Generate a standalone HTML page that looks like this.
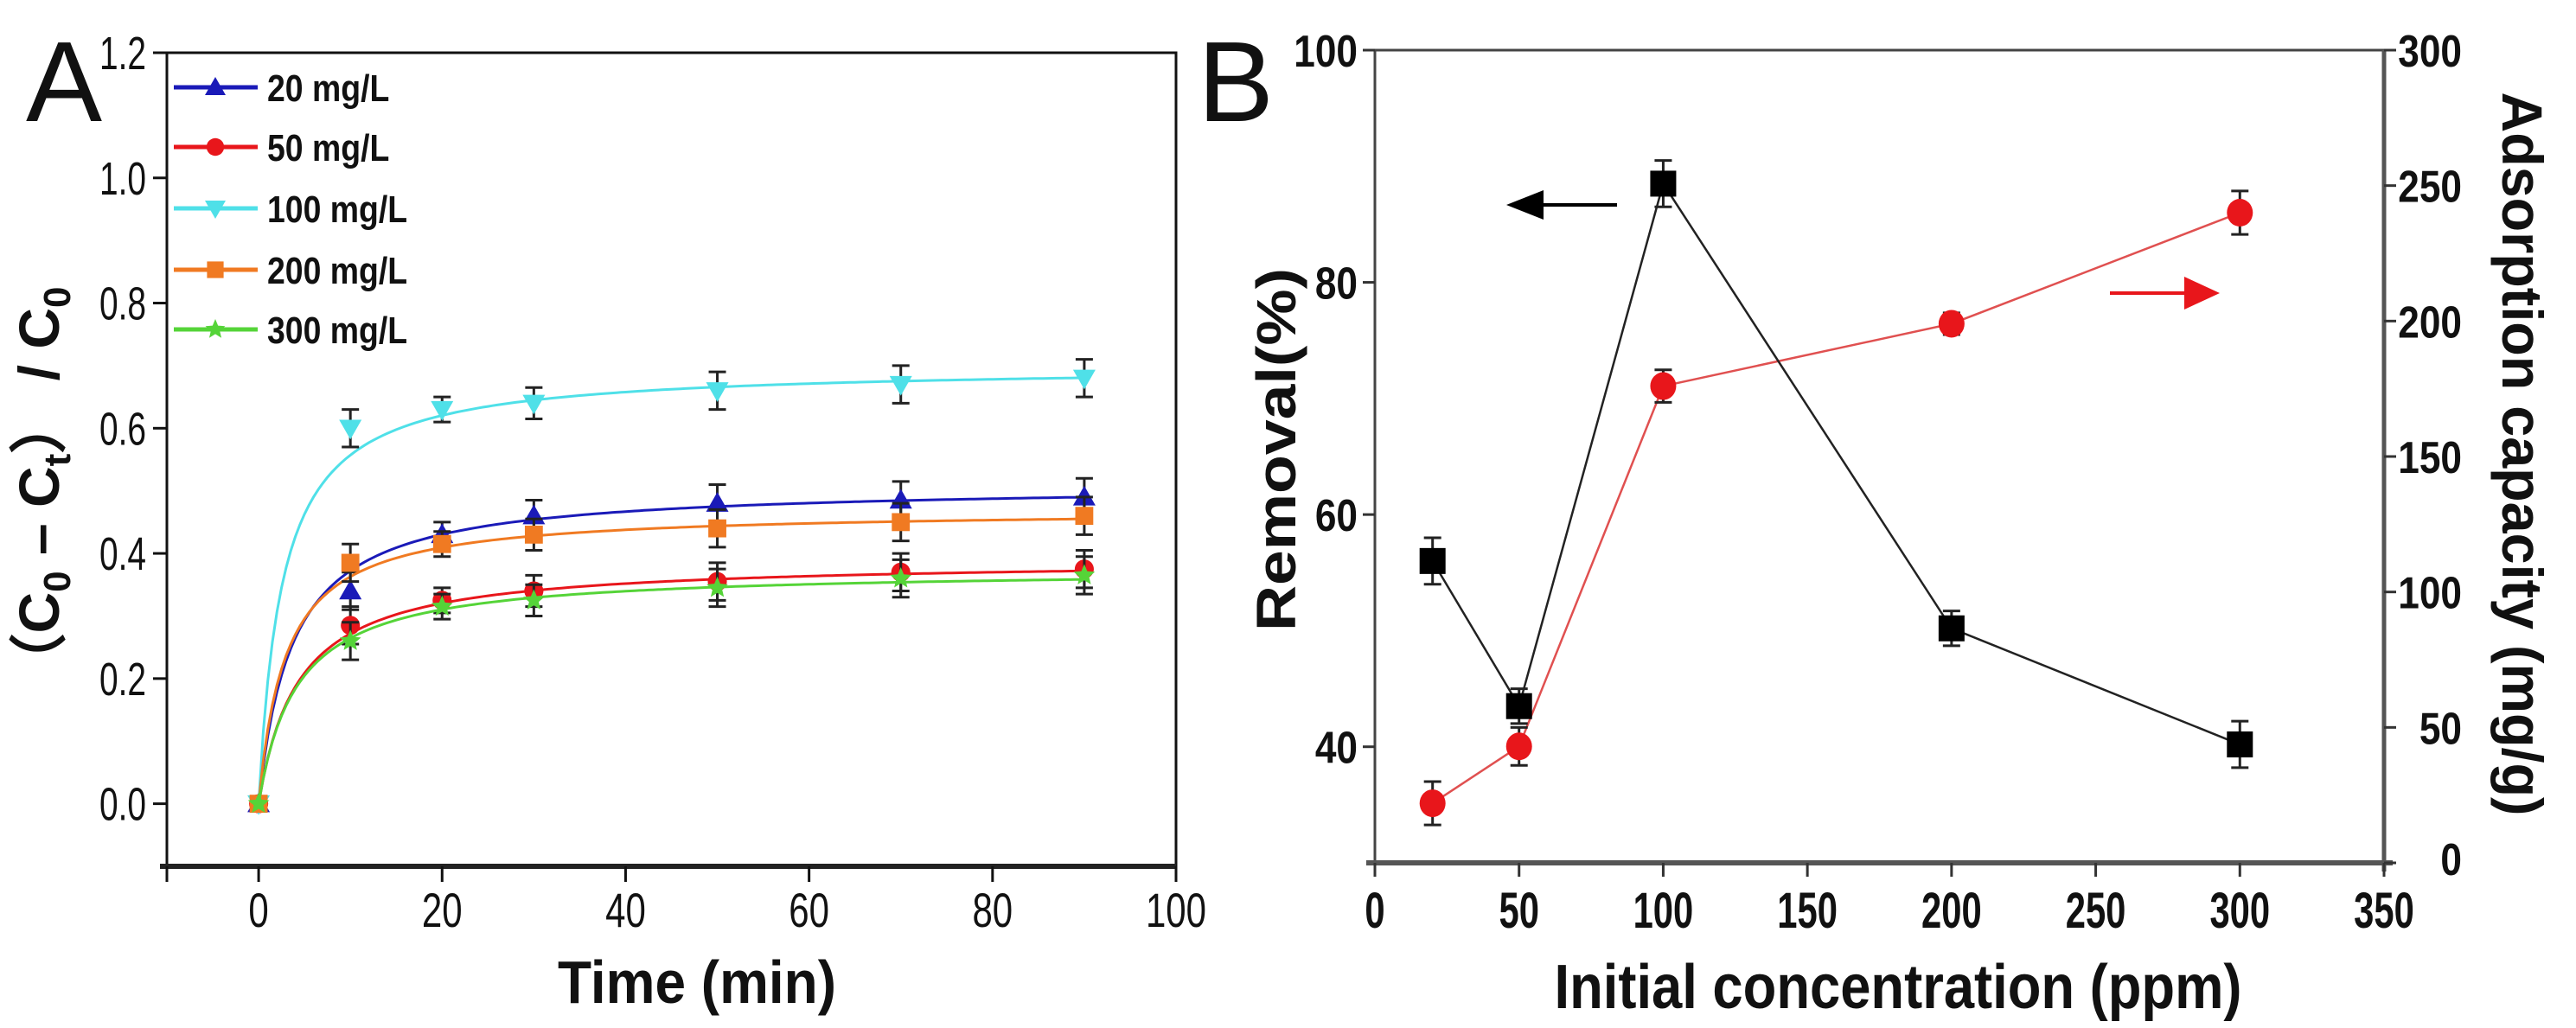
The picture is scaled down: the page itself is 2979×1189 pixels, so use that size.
<!DOCTYPE html>
<html><head><meta charset="utf-8"><style>
html,body{margin:0;padding:0;background:#fff;}
svg{display:block;}
text{font-family:"Liberation Sans",sans-serif;}
</style></head><body>
<svg id="fig" width="2979" height="1189" viewBox="0 0 2979 1189" xmlns="http://www.w3.org/2000/svg">
<g id="pa"></g>
<g id="pb"></g>
</svg>
<script>
// ---------- Panel A data ----------
const timesA = [0, 10, 20, 30, 50, 70, 90];
const seriesNames = ["20 mg/L", "50 mg/L", "100 mg/L", "200 mg/L", "300 mg/L"];
const s20 = [0, 0.34, 0.43, 0.46, 0.48, 0.485, 0.49];
const s50 = [0, 0.285, 0.325, 0.34, 0.355, 0.37, 0.375];
const s100 = [0, 0.60, 0.63, 0.64, 0.66, 0.67, 0.68];
const s200 = [0, 0.385, 0.415, 0.43, 0.44, 0.45, 0.46];
const s300 = [0, 0.26, 0.315, 0.325, 0.345, 0.36, 0.365];
const errA = [0.01, 0.03, 0.02, 0.025, 0.03, 0.03, 0.03];
const fitQe = [0.51, 0.39, 0.70, 0.47, 0.375];
const fitK = [0.53, 0.59, 0.557, 0.72, 0.64];
const xTicksA = [0, 20, 40, 60, 80, 100];
const yTicksA = [0.0, 0.2, 0.4, 0.6, 0.8, 1.0, 1.2];
// ---------- Panel B data ----------
const concB = [20, 50, 100, 200, 300];
const removal = [56, 43.5, 88.5, 50.2, 40.2];
const removalErr = [2, 1.5, 2, 1.5, 2];
const capacity = [22, 43, 176, 199, 240];
const capacityErr = [8, 7, 6, 4, 8];
const xTicksB = [0, 50, 100, 150, 200, 250, 300, 350];
const yTicksBL = [40, 60, 80, 100];
const yTicksBR = [0, 50, 100, 150, 200, 250, 300];

const NS = "http://www.w3.org/2000/svg";
function mk(parent, tag, attrs, txt){
  const e = document.createElementNS(NS, tag);
  for (const k in attrs) e.setAttribute(k, attrs[k]);
  if (txt !== undefined) e.textContent = txt;
  parent.appendChild(e); return e;
}
function sx(x, s){ return `translate(${x},0) scale(${s},1) translate(${-x},0)`; }
const pa = document.getElementById('pa');
const pb = document.getElementById('pb');

// Panel A axes
const AL=193, AR=1360, AT=61, AB=1002;
const xA = v => AL + (v + 10) / 110 * (AR - AL);
const yA = v => AB - (v + 0.1) / 1.3 * (AB - AT);

let e;
e = mk(pa,'rect',{x:AL,y:AT,width:AR-AL,height:AB-AT,fill:'none',stroke:'#111','stroke-width':3});


mk(pa,'line',{x1:AL-8,x2:AR,y1:AB,y2:AB,stroke:'#222','stroke-width':6});
xTicksA.forEach(t=>{
  e = mk(pa,'line',{x1:xA(t),x2:xA(t),y1:AB,y2:AB+18,stroke:'#111','stroke-width':3});
  
  
  e = mk(pa,'text',{x:xA(t),y:1072,'font-size':56,'text-anchor':'middle',fill:'#111',transform:sx(xA(t),0.75)},String(t));
  
  
});
mk(pa,'line',{x1:AL,x2:AL,y1:AB,y2:AB+18,stroke:'#111','stroke-width':3});
yTicksA.forEach(t=>{
  e = mk(pa,'line',{x1:AL-16,x2:AL,y1:yA(t),y2:yA(t),stroke:'#111','stroke-width':3});
  
  
  e = mk(pa,'text',{x:AL-24,y:yA(t)+19,'font-size':54,'text-anchor':'end',fill:'#111',transform:sx(AL-24,0.72)},t.toFixed(1));
  
  
});
e = mk(pa,'text',{x:806,y:1160,'font-size':70,'font-weight':'bold','text-anchor':'middle',fill:'#111',textLength:322,lengthAdjust:'spacingAndGlyphs'},'Time (min)');


e = mk(pa,'text',{x:0,y:0,'font-size':66,'font-weight':'bold','text-anchor':'middle',fill:'#111',transform:'translate(68,565) rotate(-90)'});


e.innerHTML = '（C<tspan font-size="44" dy="13">0</tspan><tspan dy="-13"> – C</tspan><tspan font-size="44" dy="13">t</tspan><tspan dy="-13">） / C</tspan><tspan font-size="44" dy="13">0</tspan>';
e = mk(pa,'text',{x:30,y:140,'font-size':132,fill:'#111'},'A');



const colors = ['#1a1ab8','#e8161b','#4fe0e8','#f07a22','#55d438'];
const dataA = [s20, s50, s100, s200, s300];
const markers = ['tri','circ','tridown','sq','star'];
function marker(g, type, cx, cy, col, r){
  if(type==='tri') return mk(g,'polygon',{points:`${cx},${cy-r} ${cx-r},${cy+r*0.75} ${cx+r},${cy+r*0.75}`,fill:col});
  if(type==='tridown') return mk(g,'polygon',{points:`${cx},${cy+r} ${cx-r},${cy-r*0.75} ${cx+r},${cy-r*0.75}`,fill:col});
  if(type==='circ') return mk(g,'circle',{cx:cx,cy:cy,r:r*0.85,fill:col});
  if(type==='sq') return mk(g,'rect',{x:cx-r*0.8,y:cy-r*0.8,width:r*1.6,height:r*1.6,fill:col});
  const pts=[];for(let i=0;i<10;i++){const a=-Math.PI/2+i*Math.PI/5;const rr=i%2?r*0.45:r;pts.push((cx+rr*Math.cos(a))+','+(cy+rr*Math.sin(a)));}
  return mk(g,'polygon',{points:pts.join(' '),fill:col});
}
dataA.forEach((arr,si)=>{
  const g = mk(pa,'g',{});
  
  
  let d='';
  for(let t=0;t<=90;t+=0.5){
    const q=fitQe[si], k=fitK[si];
    const v = q*q*k*t/(1+q*k*t);
    d += (t===0?'M':'L')+xA(t).toFixed(1)+','+yA(v).toFixed(1);
  }
  e = mk(g,'path',{d:d,fill:'none',stroke:colors[si],'stroke-width':3});
  
  
  arr.forEach((v,i)=>{
    const x=xA(timesA[i]), y1=yA(v+errA[i]), y2=yA(v-errA[i]);
    if(i>0){
      e = mk(g,'path',{d:`M${x},${y1}V${y2}M${x-10},${y1}H${x+10}M${x-10},${y2}H${x+10}`,stroke:'#222','stroke-width':3,fill:'none'});
      
      
    }
    e = marker(g,markers[si],x,yA(v),colors[si],13);
    
    
  });
});
const legY=[101,170,241,312,381];
seriesNames.forEach((n,si)=>{
  const g = mk(pa,'g',{});
  
  
  mk(g,'line',{x1:201,x2:298,y1:legY[si],y2:legY[si],stroke:colors[si],'stroke-width':5});
  marker(g,markers[si],249,legY[si],colors[si],12);
  mk(g,'text',{x:309,y:legY[si]+16,'font-size':44,'font-weight':'bold',fill:'#111',transform:sx(309,0.85)},n);
});

// Panel B axes
const BL=1590, BR=2757, BT=58, BB=998;
const xB = v => BL + v/350*(BR-BL);
const yBL = v => BB - (v-30)/70*(BB-BT);
const yBR = v => BB - v/300*(BB-BT);
e = mk(pb,'rect',{x:BL,y:BT,width:BR-BL,height:BB-BT,fill:'none',stroke:'#444','stroke-width':3});


mk(pb,'line',{x1:BL-10,x2:BR+10,y1:BB,y2:BB,stroke:'#555','stroke-width':6});
mk(pb,'line',{x1:BR,x2:BR,y1:BT,y2:BB+10,stroke:'#555','stroke-width':5});
xTicksB.forEach(t=>{
  e = mk(pb,'line',{x1:xB(t),x2:xB(t),y1:BB,y2:BB+16,stroke:'#333','stroke-width':3});
  
  
  e = mk(pb,'text',{x:xB(t),y:1073,'font-size':58,'font-weight':'bold','text-anchor':'middle',fill:'#111',transform:sx(xB(t),0.72)},String(t));
  
  
});
yTicksBL.forEach(t=>{
  e = mk(pb,'line',{x1:BL-14,x2:BL,y1:yBL(t),y2:yBL(t),stroke:'#333','stroke-width':3});
  
  
  e = mk(pb,'text',{x:BL-20,y:yBL(t)+19,'font-size':52,'font-weight':'bold','text-anchor':'end',fill:'#111',transform:sx(BL-20,0.85)},String(t));
  
  
});
yTicksBR.forEach(t=>{
  e = mk(pb,'line',{x1:BR,x2:BR+14,y1:yBR(t),y2:yBR(t),stroke:'#333','stroke-width':3});
  
  
  const ty = t===0 ? yBR(t)+14 : yBR(t)+19;
  e = mk(pb,'text',{x:2847,y:ty,'font-size':52,'font-weight':'bold','text-anchor':'end',fill:'#111',transform:sx(2847,0.85)},String(t));
  
  
});
e = mk(pb,'text',{x:2195,y:1166,'font-size':72,'font-weight':'bold','text-anchor':'middle',fill:'#111',textLength:795,lengthAdjust:'spacingAndGlyphs'},'Initial concentration (ppm)');


e = mk(pb,'text',{x:0,y:0,'font-size':64,'font-weight':'bold','text-anchor':'middle',fill:'#111',textLength:420,lengthAdjust:'spacingAndGlyphs',transform:'translate(1498,520) rotate(-90)'},'Removal(%)');


e = mk(pb,'text',{x:0,y:0,'font-size':66,'font-weight':'bold','text-anchor':'middle',fill:'#111',textLength:837,lengthAdjust:'spacingAndGlyphs',transform:'translate(2894,525) rotate(90)'},'Adsorption capacity (mg/g)');


e = mk(pb,'text',{x:1385,y:140,'font-size':132,fill:'#111'},'B');



function drawB(vals, errs, yf, col, lineCol, isSq, name){
  const g = mk(pb,'g',{});
  
  
  mk(g,'polyline',{points:vals.map((v,i)=>xB(concB[i])+','+yf(v)).join(' '),fill:'none',stroke:lineCol,'stroke-width':2.5});
  vals.forEach((v,i)=>{
    const x=xB(concB[i]), y1=yf(v+errs[i]), y2=yf(v-errs[i]);
    e = mk(g,'path',{d:`M${x},${y1}V${y2}M${x-10},${y1}H${x+10}M${x-10},${y2}H${x+10}`,stroke:'#222','stroke-width':3,fill:'none'});
    
    
    if(isSq) e = mk(g,'rect',{x:x-15,y:yf(v)-15,width:30,height:30,fill:'#000'});
    else e = mk(g,'ellipse',{cx:x,cy:yf(v),rx:15,ry:16,fill:col});
    
    
  });
}
drawB(capacity, capacityErr, yBR, '#e8161b', '#e05050', false, 'series-capacity');
drawB(removal, removalErr, yBL, '#000', '#222', true, 'series-removal');
e = mk(pb,'g',{});


mk(e,'line',{x1:1785,x2:1870,y1:237,y2:237,stroke:'#000','stroke-width':4});
mk(e,'polygon',{points:'1742,237 1785,220 1785,254',fill:'#000'});
e = mk(pb,'g',{});


mk(e,'line',{x1:2440,x2:2530,y1:339,y2:339,stroke:'#e8161b','stroke-width':4});
mk(e,'polygon',{points:'2567,339 2526,320 2526,358',fill:'#e8161b'});
</script>
</body></html>
